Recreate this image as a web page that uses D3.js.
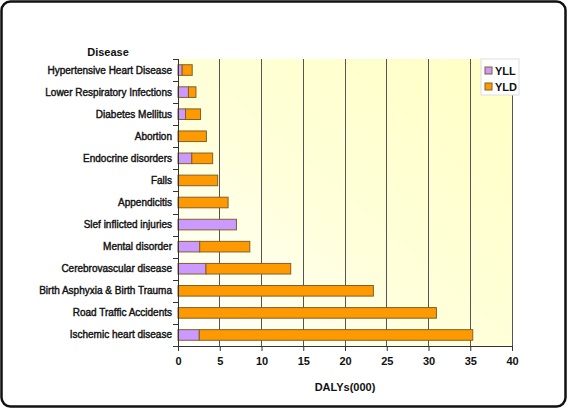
<!DOCTYPE html>
<html><head><meta charset="utf-8">
<script src="https://cdn.jsdelivr.net/npm/d3@7"></script>
<style>
html,body{margin:0;padding:0;background:#fff;}
svg{display:block;font-family:"Liberation Sans",Arial,sans-serif;}
</style></head>
<body><svg id="c" width="568" height="409"></svg>
<script>
const categories = ["Hypertensive Heart Disease","Lower Respiratory Infections","Diabetes Mellitus","Abortion","Endocrine disorders","Falls","Appendicitis","Slef inflicted injuries","Mental disorder","Cerebrovascular disease","Birth Asphyxia & Birth Trauma","Road Traffic Accidents","Ischemic heart disease"];
const yll = [0.5,1.25,0.9,0,1.65,0,0,7.0,2.6,3.35,0,0,2.55];
const yld = [1.2,0.9,1.8,3.4,2.5,4.75,6.0,0,6.0,10.15,23.4,30.95,32.75];
const xTicks = [0,5,10,15,20,25,30,35,40];
const seriesNames = ["YLL","YLD"];
const seriesColors = ["#cc99ff","#ff9900"];

const svg = d3.select("#c");
const defs = svg.append("defs");
const g1 = defs.append("linearGradient").attr("id","bg").attr("x1","0").attr("y1","1").attr("x2","1").attr("y2","0");
g1.append("stop").attr("offset","0").attr("stop-color","#ffffff");
g1.append("stop").attr("offset","0.45").attr("stop-color","#ffffda");
g1.append("stop").attr("offset","1").attr("stop-color","#ffffc4");

// outer frame
svg.append("rect").attr("x",1.5).attr("y",1.5).attr("width",564).attr("height",405)
  .attr("rx",9).attr("fill","#fff").attr("stroke","#111").attr("stroke-width",2.5);

const m = {l:178, r:512, t:59, b:346};
const x = d3.scaleLinear().domain([0,40]).range([m.l,m.r]);
const y = d3.scaleBand().domain(categories).range([m.t,m.b]).paddingInner(0.52).paddingOuter(0.26);

svg.append("rect").attr("x",m.l).attr("y",m.t).attr("width",m.r-m.l).attr("height",m.b-m.t).attr("fill","url(#bg)");

// gridlines
svg.append("g").selectAll("line").data(xTicks.slice(1)).join("line")
  .attr("x1",d=>x(d)).attr("x2",d=>x(d)).attr("y1",m.t).attr("y2",m.b)
  .attr("stroke","#555").attr("stroke-width",1).attr("shape-rendering","crispEdges");

// bars
const stackData = categories.map((c,i)=>({cat:c, YLL:yll[i], YLD:yld[i]}));
const stack = d3.stack().keys(seriesNames)(stackData);
svg.append("g").selectAll("g").data(stack).join("g")
  .attr("fill",(d,i)=>seriesColors[i])
  .selectAll("rect").data(d=>d.filter(p=>p[1]-p[0]>0)).join("rect")
  .attr("x",d=>x(d[0])).attr("width",d=>x(d[1])-x(d[0]))
  .attr("y",d=>y(d.data.cat)).attr("height",y.bandwidth())
  .attr("stroke","#80602a").attr("stroke-width",1);

// axes
const xAxis = d3.axisBottom(x).tickValues(xTicks).tickSize(5).tickPadding(6);
const gx = svg.append("g").attr("transform",`translate(0,${m.b})`).call(xAxis);
gx.selectAll("text").attr("font-size",11).attr("font-weight","bold").attr("fill","#111");
gx.select(".domain").attr("stroke","#333");
gx.selectAll(".tick line").attr("stroke","#333");

// left axis: line + ticks at band boundaries
const step = (m.b-m.t)/categories.length;
svg.append("line").attr("x1",m.l+0.5).attr("x2",m.l+0.5).attr("y1",m.t).attr("y2",m.b).attr("stroke","#333");
svg.append("g").selectAll("line").data(d3.range(categories.length+1)).join("line")
  .attr("x1",m.l-5).attr("x2",m.l).attr("y1",i=>Math.round(m.t+i*step)+0.5).attr("y2",i=>Math.round(m.t+i*step)+0.5)
  .attr("stroke","#333");
svg.append("g").selectAll("text").data(categories).join("text")
  .attr("x",m.l-6).attr("y",d=>y(d)+y.bandwidth()/2).attr("dy","0.35em")
  .attr("text-anchor","end").attr("font-size",10).attr("fill","#111")
  .style("paint-order","stroke").attr("stroke","#111").attr("stroke-width",0.4)
  .text(d=>d);

svg.append("text").attr("x",108).attr("y",56).attr("text-anchor","middle")
  .attr("font-size",11).attr("font-weight","bold").attr("fill","#111").text("Disease");
svg.append("text").attr("x",345).attr("y",391).attr("text-anchor","middle")
  .attr("font-size",11).attr("font-weight","bold").attr("fill","#111").text("DALYs(000)");

// legend
const lg = svg.append("g").attr("transform","translate(481,59)");
lg.append("rect").attr("width",38).attr("height",36).attr("fill","#fff").attr("stroke","#ddd");
seriesNames.forEach((s,i)=>{
  lg.append("rect").attr("x",4).attr("y",8+i*16).attr("width",7).attr("height",7)
    .attr("fill",seriesColors[i]).attr("stroke","#80602a");
  lg.append("text").attr("x",14).attr("y",12+i*16).attr("dy","0.35em").attr("font-size",11)
    .attr("font-weight","bold").attr("fill","#111").text(s);
});
</script></body></html>
